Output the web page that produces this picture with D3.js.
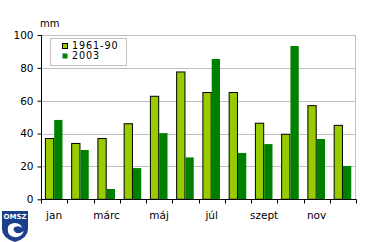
<!DOCTYPE html>
<html><head><meta charset="utf-8">
<script src="https://cdn.jsdelivr.net/npm/d3@7/dist/d3.min.js"></script>
<style>body{margin:0;background:#fff}svg{display:block}text{font-family:"DejaVu Sans",Verdana,sans-serif}</style>
</head><body>
<script>
const months = ["jan","feb","márc","ápr","máj","jún","júl","aug","szept","okt","nov","dec"];
const tickLabels = ["jan","márc","máj","júl","szept","nov"];
const normal = [37,34,37,46,62.7,77.5,65,65,46.3,39.6,57,45];
const y2003 = [48.3,30,6.3,19,40.3,25.5,85.4,28.2,33.6,93.3,36.7,20.3];
const seriesNames = ["1961-90","2003"];
const yTicks = [0,20,40,60,80,100];

const W=370,H=242;
const svg=d3.select("body").append("svg").attr("width",W).attr("height",H);
const x=d3.scaleBand().domain(months).range([41,356]).paddingInner(0).paddingOuter(0);
const y=d3.scaleLinear().domain([0,100]).range([199.3,35]);

// grid
svg.append("g").selectAll("line").data(yTicks.filter(d=>d>0)).join("line")
  .attr("x1",41).attr("x2",356).attr("y1",d=>Math.round(y(d))+0.5).attr("y2",d=>Math.round(y(d))+0.5)
  .attr("stroke","#c0c0c0");
svg.append("line").attr("x1",355.5).attr("x2",355.5).attr("y1",Math.round(y(100))+0.5).attr("y2",Math.round(y(0))).attr("stroke","#c0c0c0");

const bw=8.3, off=4.4;
const g=svg.append("g");
g.selectAll("rect.n").data(months).join("rect").attr("class","n")
  .attr("x",(d,i)=>x(d)+off).attr("width",bw)
  .attr("y",(d,i)=>y(normal[i])).attr("height",(d,i)=>y(0)-y(normal[i]))
  .attr("fill","#99cc00").attr("stroke","#000").attr("stroke-width",1);
g.selectAll("rect.d").data(months).join("rect").attr("class","d")
  .attr("x",(d,i)=>x(d)+off+bw+0.5).attr("width",bw)
  .attr("y",(d,i)=>y(y2003[i])).attr("height",(d,i)=>y(0)-y(y2003[i]))
  .attr("fill","#008000");

// axes
const yAx=svg.append("g").attr("transform","translate(41.5,0)")
  .call(d3.axisLeft(y).tickValues(yTicks).tickSize(4).tickPadding(4));
yAx.select(".domain").attr("d",`M0,${y(100)}V${y(0)}`);
yAx.selectAll("text").attr("font-size","10.5px").attr("fill","#000").attr("font-family","DejaVu Sans");
yAx.selectAll(".tick line").attr("x2",-4);

const xb=svg.append("g").attr("transform",`translate(0,${Math.round(y(0))+0.5})`);
xb.append("line").attr("x1",41).attr("x2",356.5).attr("stroke","#000");
const bounds=months.map(m=>x(m)).concat([x.range()[1]]);
xb.selectAll("line.t").data(bounds).join("line").attr("class","t")
  .attr("x1",d=>Math.round(d)+0.5).attr("x2",d=>Math.round(d)+0.5).attr("y1",0).attr("y2",4).attr("stroke","#000");
xb.selectAll("text").data(tickLabels).join("text")
  .attr("x",d=>x(d)+x.bandwidth()/2).attr("y",19).attr("text-anchor","middle")
  .attr("font-size","10.5px").text(d=>d);

svg.append("text").attr("x",40).attr("y",27).attr("font-size","10px").text("mm");

// legend
const lg=svg.append("g");
lg.append("rect").attr("x",50.5).attr("y",38.5).attr("width",76).attr("height",27).attr("fill","#fff").attr("stroke","#c0c0c0");
const cols=["#99cc00","#008000"];
seriesNames.forEach((s,i)=>{
  lg.append("rect").attr("x",62.5).attr("y",43.5+i*10).attr("width",5).attr("height",5)
    .attr("fill",cols[i]).attr("stroke",i==0?"#000":"none");
  lg.append("text").attr("x",72).attr("y",49+i*10).attr("font-size","9.6px").attr("letter-spacing","0.9px").text(s);
});

// logo
const lo=svg.append("g").attr("transform","translate(2,211)");
lo.append("path").attr("d","M0,0H26V18Q26,27 13,31Q0,27 0,18Z").attr("fill","#1c3f8c");
lo.append("text").attr("x",13).attr("y",8).attr("text-anchor","middle").attr("font-size","7px").attr("font-weight","bold").attr("fill","#fff").text("OMSZ");
lo.append("path").attr("d","M6,21Q4,13 12,12Q19,12 20,17Q17,14 13,16Q10,18 13,21Q16,24 22,20Q19,27 12,26Q7,25 6,21Z").attr("fill","#fff");
</script>
</body></html>
